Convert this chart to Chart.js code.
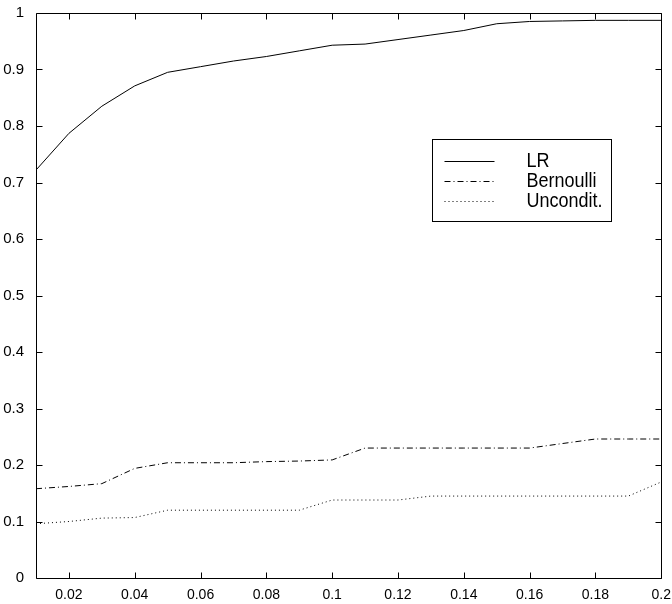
<!DOCTYPE html>
<html>
<head>
<meta charset="utf-8">
<script src="https://cdn.jsdelivr.net/npm/chart.js@4"></script>
<style>
  html, body { margin: 0; padding: 0; background: #fff; }
  #wrap { width: 672px; height: 604px; }
</style>
</head>
<body>
<div id="wrap"><canvas id="myChart"></canvas></div>
<script>
const xValues = [0.01, 0.02, 0.03, 0.04, 0.05, 0.06, 0.07, 0.08, 0.09, 0.10,
                 0.11, 0.12, 0.13, 0.14, 0.15, 0.16, 0.17, 0.18, 0.19, 0.20];
const lrValues = [0.722, 0.787, 0.835, 0.871, 0.895, 0.905, 0.915, 0.923, 0.933, 0.943,
                  0.945, 0.953, 0.961, 0.969, 0.981, 0.985, 0.986, 0.987, 0.987, 0.987];
const bernoulliValues = [0.158, 0.162, 0.167, 0.194, 0.204, 0.204, 0.204, 0.206, 0.207, 0.209,
                         0.230, 0.230, 0.230, 0.230, 0.230, 0.230, 0.238, 0.246, 0.246, 0.246];
const uncondValues = [0.096, 0.100, 0.106, 0.107, 0.120, 0.120, 0.120, 0.120, 0.120, 0.138,
                      0.138, 0.138, 0.145, 0.145, 0.145, 0.145, 0.145, 0.145, 0.145, 0.170];
const xTicks = [0.02, 0.04, 0.06, 0.08, 0.1, 0.12, 0.14, 0.16, 0.18, 0.2];
const yTicks = [0, 0.1, 0.2, 0.3, 0.4, 0.5, 0.6, 0.7, 0.8, 0.9, 1];
const seriesNames = ['LR', 'Bernoulli', 'Uncondit.'];

const dashes = [[], [6, 3, 1, 3], [1, 3]];
const FONT = 'Liberation Sans, Arial, sans-serif';

function toPoints(ys) {
  return xValues.map((x, i) => ({ x: x, y: ys[i] }));
}

// box, inward ticks and the legend, MATLAB style
const framePlugin = {
  id: 'frame',
  afterDraw(chart) {
    const c = chart.ctx;
    const a = chart.chartArea;
    const xs = chart.scales.x, ys = chart.scales.y;
    const L = Math.round(a.left) + 0.5, R = Math.round(a.right) + 0.5;
    const T = Math.round(a.top) + 0.5, B = Math.round(a.bottom) + 0.5;
    c.save();
    c.strokeStyle = '#000';
    c.lineWidth = 1;
    c.setLineDash([]);
    c.beginPath();
    c.rect(L, T, R - L, B - T);
    xTicks.forEach(v => {
      const px = Math.round(xs.getPixelForValue(v)) + 0.5;
      c.moveTo(px, B); c.lineTo(px, B - 6);
      c.moveTo(px, T); c.lineTo(px, T + 6);
    });
    yTicks.forEach(v => {
      const py = Math.round(ys.getPixelForValue(v)) + 0.5;
      c.moveTo(L, py); c.lineTo(L + 6, py);
      c.moveTo(R, py); c.lineTo(R - 6, py);
    });
    c.stroke();

    // legend
    const bx = L + 396, by = T + 126, bw = 179, bh = 82;
    c.fillStyle = '#fff';
    c.fillRect(bx, by, bw, bh);
    c.strokeRect(bx, by, bw, bh);
    c.fillStyle = '#000';
    seriesNames.forEach((name, i) => {
      const ly = Math.round(by + 21 + i * 20) + 0.5;
      c.setLineDash(dashes[i]);
      c.beginPath();
      c.moveTo(bx + 12, ly); c.lineTo(bx + 62, ly);
      c.stroke();
      c.save();
      c.translate(bx + 94, ly);
      c.scale(1, 1.15);
      c.font = '18px ' + FONT;
      c.textBaseline = 'middle';
      c.fillText(name, 0, 0);
      c.restore();
    });
    c.restore();
  }
};

new Chart(document.getElementById('myChart'), {
  type: 'line',
  data: {
    datasets: [lrValues, bernoulliValues, uncondValues].map((vals, i) => ({
      label: seriesNames[i],
      data: toPoints(vals),
      borderColor: '#000',
      borderWidth: 1,
      borderDash: dashes[i],
      pointRadius: 0,
      tension: 0,
      fill: false
    }))
  },
  options: {
    responsive: true,
    maintainAspectRatio: false,
    animation: false,
    layout: { padding: { top: 13, right: 10, left: 0, bottom: 0 } },
    plugins: { legend: { display: false }, tooltip: { enabled: false } },
    scales: {
      x: {
        type: 'linear',
        min: 0.01,
        max: 0.2,
        afterBuildTicks: s => { s.ticks = xTicks.map(v => ({ value: v })); },
        afterFit: s => { s.height = 26; },
        grid: { display: false },
        border: { display: false },
        ticks: {
          color: '#000',
          font: { family: FONT, size: 14 },
          padding: 1,
          maxRotation: 0,
          autoSkip: false,
          callback: v => String(+v.toFixed(2))
        }
      },
      y: {
        min: 0,
        max: 1,
        afterBuildTicks: s => { s.ticks = yTicks.map(v => ({ value: v })); },
        afterFit: s => { s.width = 36; },
        grid: { display: false },
        border: { display: false },
        ticks: {
          color: '#000',
          font: { family: FONT, size: 15 },
          padding: 4,
          autoSkip: false,
          callback: v => String(+v.toFixed(1))
        }
      }
    }
  },
  plugins: [framePlugin]
});
</script>
</body>
</html>
